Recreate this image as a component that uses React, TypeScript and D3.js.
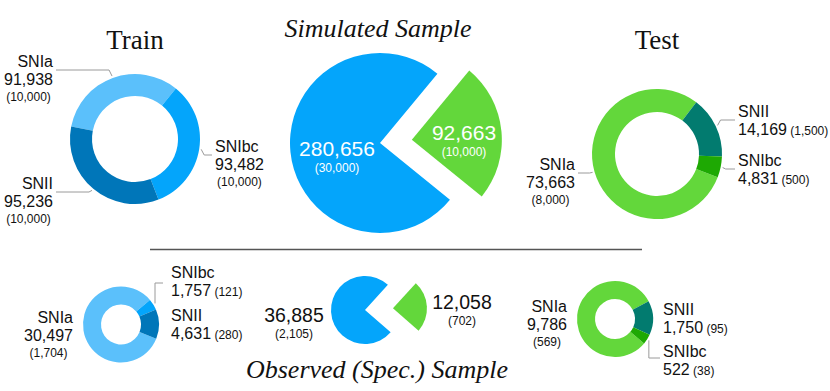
import React from "react";
import * as d3 from "d3";

const W = 830;
const H = 391;

// simulated sample, split into train / test
const splitNames = ["Train", "Test"];
const simCounts = [280656, 92663];
const simSpec = [30000, 10000];

// observed (spectroscopic) sample
const obsCounts = [36885, 12058];
const obsSpec = [2105, 702];

// train set by type
const trainTypes = ["SNIa", "SNIbc", "SNII"];
const trainCounts = [91938, 93482, 95236];
const trainSpec = [10000, 10000, 10000];

// test set by type
const testTypes = ["SNIa", "SNII", "SNIbc"];
const testCounts = [73663, 14169, 4831];
const testSpec = [8000, 1500, 500];

// observed train by type
const obsTrainTypes = ["SNIa", "SNIbc", "SNII"];
const obsTrainCounts = [30497, 1757, 4631];
const obsTrainSpec = [1704, 121, 280];

// observed test by type
const obsTestTypes = ["SNIa", "SNII", "SNIbc"];
const obsTestCounts = [9786, 1750, 522];
const obsTestSpec = [569, 95, 38];

const blues: Record<string, string> = { SNIa: "#5bc0fb", SNIbc: "#04a5fb", SNII: "#0076b9" };
const greens: Record<string, string> = { SNIa: "#63d73b", SNII: "#027b6f", SNIbc: "#1ea903" };
const splitColors = ["#04a5fb", "#63d73b"];

const SANS = "'Liberation Sans', Arial, Helvetica, sans-serif";
const SERIF = "'Liberation Serif', 'Times New Roman', serif";
const fmt = d3.format(",");
const rad = (d: number) => (d * Math.PI) / 180;

// rough width of a number string in Liberation Sans
const numW = (s: string, size: number) =>
  [...s].reduce((a, c) => a + (c === "," ? 0.278 : 0.556), 0) * size;

type LabelCfg = {
  side: "left" | "right";
  x: number;
  y: number;
  inline?: boolean;
  leader?: "h" | "v";
  lineY?: number;
  lineX?: number;
};

type DonutProps = {
  cx: number;
  cy: number;
  r0: number;
  r1: number;
  start: number;
  types: string[];
  counts: number[];
  spec: number[];
  colors: Record<string, string>;
  labels: LabelCfg[];
};

function Donut({ cx, cy, r0, r1, start, types, counts, spec, colors, labels }: DonutProps) {
  const pie = d3
    .pie<number>()
    .sort(null)
    .startAngle(rad(start))
    .endAngle(rad(start) + Math.PI * 2);
  const arcs = pie(counts);
  const arc = d3.arc<d3.PieArcDatum<number>>().innerRadius(r0).outerRadius(r1);

  return (
    <g>
      <g transform={`translate(${cx},${cy})`}>
        {arcs.map((a, i) => (
          <path key={i} d={arc(a) || ""} fill={colors[types[i]]} />
        ))}
      </g>
      {arcs.map((a, i) => {
        const cfg = labels[i];
        const mid = (a.startAngle + a.endAngle) / 2;
        const px = cx + Math.sin(mid) * (r1 + 2);
        const py = cy - Math.cos(mid) * (r1 + 2);
        const dir = cfg.side === "right" ? 1 : -1;
        let pts: [number, number][] = [];
        if (cfg.leader === "h") {
          const ly = cfg.lineY ?? cfg.y + 3;
          pts = [
            [px, py],
            [px + 3 * dir, ly],
            [cfg.x - 3 * dir, ly],
          ];
        } else if (cfg.leader === "v") {
          const ly = cfg.lineY ?? cfg.y;
          pts = [
            [px, py],
            [px, ly],
            [cfg.lineX ?? cfg.x - 3, ly],
          ];
        }
        const num = fmt(counts[i]);
        const anchor = cfg.side === "left" ? "end" : "start";
        const nw = numW(num, 16);
        return (
          <g key={i} fontFamily={SANS} fill="#111">
            {pts.length > 0 && (
              <polyline points={pts.map((p) => p.join(",")).join(" ")} fill="none" stroke="#9a9a9a" strokeWidth={1} />
            )}
            <text x={cfg.x} y={cfg.y} fontSize={16} textAnchor={anchor}>
              {types[i]}
            </text>
            {cfg.inline ? (
              <text x={cfg.x} y={cfg.y + 18} fontSize={16} textAnchor={anchor}>
                {num}
                <tspan fontSize={12}>{` (${fmt(spec[i])})`}</tspan>
              </text>
            ) : (
              <>
                <text x={cfg.x} y={cfg.y + 18} fontSize={16} textAnchor={anchor}>
                  {num}
                </text>
                <text x={cfg.x + (dir * nw) / 2} y={cfg.y + 34} fontSize={12} textAnchor="middle">
                  {`(${fmt(spec[i])})`}
                </text>
              </>
            )}
          </g>
        );
      })}
    </g>
  );
}

type SplitProps = {
  cx: number;
  cy: number;
  r: number;
  start: number;
  offset: number;
  counts: number[];
  spec: number[];
  textColor: string;
  size: number;
  labelPos: [number, number][];
};

function SplitPie({ cx, cy, r, start, offset, counts, spec, textColor, size, labelPos }: SplitProps) {
  const pie = d3
    .pie<number>()
    .sort(null)
    .startAngle(rad(start))
    .endAngle(rad(start) + Math.PI * 2);
  const arcs = pie(counts);
  const arc = d3.arc<d3.PieArcDatum<number>>().innerRadius(0).outerRadius(r);
  return (
    <g>
      {arcs.map((a, i) => {
        const mid = (a.startAngle + a.endAngle) / 2;
        const off = i === 1 ? offset : 0;
        const dx = Math.sin(mid) * off;
        const dy = -Math.cos(mid) * off;
        return <path key={i} transform={`translate(${cx + dx},${cy + dy})`} d={arc(a) || ""} fill={splitColors[i]} />;
      })}
      {arcs.map((a, i) => (
        <g key={"t" + i} fontFamily={SANS} fill={textColor} textAnchor="middle">
          <text x={labelPos[i][0]} y={labelPos[i][1]} fontSize={size}>
            {fmt(counts[i])}
          </text>
          <text x={labelPos[i][0]} y={labelPos[i][1] + 16} fontSize={12}>
            {`(${fmt(spec[i])})`}
          </text>
        </g>
      ))}
    </g>
  );
}

export default function App() {
  return (
    <svg
      width={W}
      height={H}
      style={{ position: "absolute", left: 0, top: 0, background: "#fff" }}
      aria-label={splitNames.join(" / ")}
    >
      {/* titles */}
      <text x={135} y={49} fontFamily={SERIF} fontSize={27} textAnchor="middle" fill="#111">
        Train
      </text>
      <text x={657} y={49} fontFamily={SERIF} fontSize={27} textAnchor="middle" fill="#111">
        Test
      </text>
      <text x={378} y={37} fontFamily={SERIF} fontStyle="italic" fontSize={26} textAnchor="middle" fill="#111">
        Simulated Sample
      </text>
      <text x={377} y={378} fontFamily={SERIF} fontStyle="italic" fontSize={26} textAnchor="middle" fill="#111">
        Observed (Spec.) Sample
      </text>

      <line x1={150} x2={642} y1={249.5} y2={249.5} stroke="#555" strokeWidth={1.6} />

      <SplitPie
        cx={380}
        cy={143}
        r={90}
        start={129}
        offset={32}
        counts={simCounts}
        spec={simSpec}
        textColor="#fff"
        size={21}
        labelPos={[
          [337, 156],
          [464, 140],
        ]}
      />
      <SplitPie
        cx={365}
        cy={310}
        r={34}
        start={131}
        offset={28}
        counts={obsCounts}
        spec={obsSpec}
        textColor="#111"
        size={19.5}
        labelPos={[
          [294, 322],
          [462, 309],
        ]}
      />

      <Donut
        cx={135}
        cy={139}
        r0={43}
        r1={65}
        start={-79}
        types={trainTypes}
        counts={trainCounts}
        spec={trainSpec}
        colors={blues}
        labels={[
          { side: "left", x: 53, y: 67, leader: "h" },
          { side: "right", x: 215, y: 152, leader: "h" },
          { side: "left", x: 53, y: 189, leader: "h" },
        ]}
      />
      <Donut
        cx={657}
        cy={154}
        r0={42}
        r1={65}
        start={111}
        types={testTypes}
        counts={testCounts}
        spec={testSpec}
        colors={greens}
        labels={[
          { side: "left", x: 575, y: 170, leader: "h" },
          { side: "right", x: 738, y: 117, inline: true, leader: "h" },
          { side: "right", x: 738, y: 166, inline: true, leader: "h" },
        ]}
      />
      <Donut
        cx={121}
        cy={324.5}
        r0={20}
        r1={38}
        start={112}
        types={obsTrainTypes}
        counts={obsTrainCounts}
        spec={obsTrainSpec}
        colors={blues}
        labels={[
          { side: "left", x: 73, y: 323 },
          { side: "right", x: 171, y: 278, inline: true, leader: "v", lineY: 283, lineX: 163 },
          { side: "right", x: 171, y: 321, inline: true },
        ]}
      />
      <Donut
        cx={615}
        cy={319}
        r0={20}
        r1={38}
        start={130}
        types={obsTestTypes}
        counts={obsTestCounts}
        spec={obsTestSpec}
        colors={greens}
        labels={[
          { side: "left", x: 567, y: 312 },
          { side: "right", x: 663, y: 315, inline: true },
          { side: "right", x: 663, y: 357, inline: true, leader: "v", lineY: 358, lineX: 660 },
        ]}
      />
    </svg>
  );
}
